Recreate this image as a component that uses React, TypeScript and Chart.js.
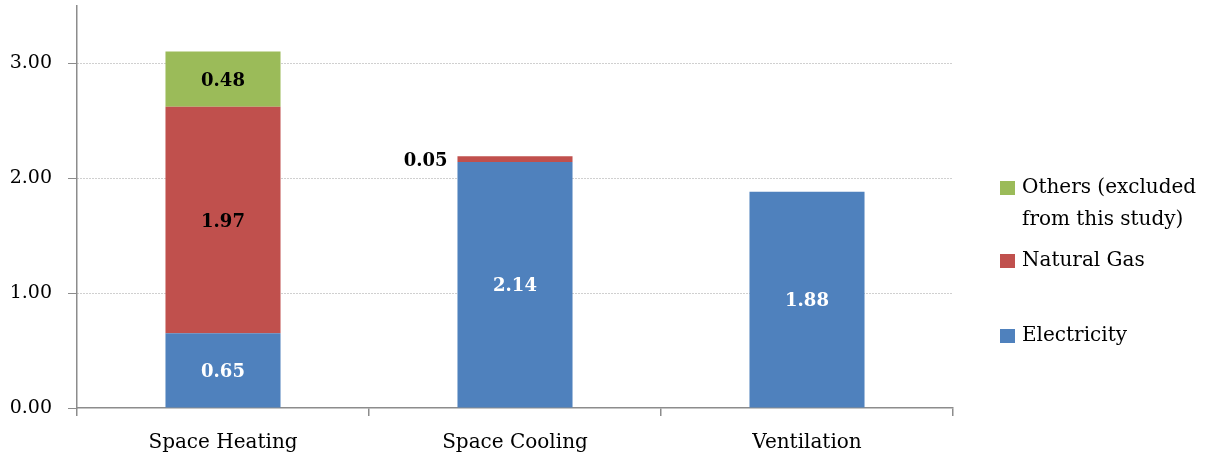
import React, { useEffect, useRef } from "react";
import { Chart, registerables } from "chart.js";

Chart.register(...registerables);

const categories = ["Space Heating", "Space Cooling", "Ventilation"];
const electricity = [0.65, 2.14, 1.88];
const naturalGas = [1.97, 0.05, null];
const others = [0.48, null, null];
const seriesNames = ["Electricity", "Natural Gas", "Others (excluded from this study)"];
const legendLines = [["Others (excluded", "from this study)"], ["Natural Gas"], ["Electricity"]];

const FONT = "'DejaVu Serif', serif";
const BLUE = "#4F81BD";
const RED = "#C0504D";
const GREEN = "#9BBB59";
const AXIS = "#8c8c8c";

const labelPlugin = {
  id: "valueLabels",
  afterDatasetsDraw(chart: any) {
    const ctx = chart.ctx;
    ctx.save();
    ctx.font = `bold 18px ${FONT}`;
    ctx.textBaseline = "middle";
    chart.data.datasets.forEach((ds: any, di: number) => {
      const meta = chart.getDatasetMeta(di);
      meta.data.forEach((bar: any, i: number) => {
        const v = ds.data[i];
        if (v == null) return;
        const top = Math.min(bar.y, bar.base);
        const h = Math.abs(bar.base - bar.y);
        const text = v.toFixed(2);
        if (h < 20) {
          ctx.fillStyle = "#000";
          ctx.textAlign = "right";
          ctx.fillText(text, bar.x - bar.width / 2 - 10, top + 5);
        } else {
          ctx.fillStyle = ds.labelColor;
          ctx.textAlign = "center";
          ctx.fillText(text, bar.x, top + h / 2 + 2);
        }
      });
    });
    ctx.restore();
  },
};

const legendPlugin = {
  id: "sideLegend",
  afterDraw(chart: any) {
    const ctx = chart.ctx;
    const x0 = chart.chartArea.right + 47;
    const colors = [GREEN, RED, BLUE];
    const ys = [188, 261, 336];
    ctx.save();
    ctx.font = `20px ${FONT}`;
    ctx.textBaseline = "middle";
    ctx.textAlign = "left";
    legendLines.forEach((lines, k) => {
      ctx.fillStyle = colors[k];
      ctx.fillRect(x0, ys[k] - 7, 15, 14);
      ctx.fillStyle = "#000";
      lines.forEach((ln, j) => {
        ctx.fillText(ln, x0 + 22, ys[k] + j * 32);
      });
    });
    ctx.restore();
  },
};

export default function App() {
  const ref = useRef<HTMLCanvasElement>(null);
  useEffect(() => {
    if (!ref.current) return;
    Chart.defaults.font.family = FONT;
    const chart = new Chart(ref.current, {
      type: "bar",
      data: {
        labels: categories,
        datasets: [
          { label: seriesNames[0], data: electricity, backgroundColor: BLUE, labelColor: "#fff" } as any,
          { label: seriesNames[1], data: naturalGas, backgroundColor: RED, labelColor: "#000" } as any,
          { label: seriesNames[2], data: others, backgroundColor: GREEN, labelColor: "#000" } as any,
        ],
      },
      options: {
        responsive: false,
        animation: false,
        layout: { padding: { left: 0, top: 5.5, right: 252, bottom: 0 } },
        datasets: { bar: { categoryPercentage: 1, barPercentage: 0.394 } },
        plugins: { legend: { display: false }, tooltip: { enabled: false } },
        scales: {
          x: {
            stacked: true,
            afterFit: (s: any) => { s.height = 50; s.paddingLeft = 0; s.paddingRight = 0; },
            grid: { display: true, drawOnChartArea: false, offset: true, tickLength: 8, color: AXIS, lineWidth: 1.5 },
            border: { color: AXIS, width: 1.5 },
            ticks: { color: "#000", font: { size: 20 }, padding: 15 },
          },
          y: {
            stacked: true,
            min: 0,
            max: 3.5,
            afterFit: (s: any) => { s.width = 77; s.paddingTop = 0; s.paddingBottom = 0; },
            afterBuildTicks: (s: any) => { s.ticks = s.ticks.filter((t: any) => t.value <= 3); },
            grid: {
              color: (c: any) => (c.tick && c.tick.value === 0 ? "rgba(0,0,0,0)" : "#a0a0a0"),
              tickColor: AXIS,
              tickLength: 9,
              tickBorderDash: [],
              lineWidth: 1,
            },
            border: { color: AXIS, width: 1.5, dash: [1, 2] },
            ticks: { stepSize: 1, color: "#000", font: { size: 19 }, padding: 16, callback: (v: any) => Number(v).toFixed(2) },
          },
        },
      },
      plugins: [labelPlugin, legendPlugin],
    } as any);
    return () => chart.destroy();
  }, []);
  return (
    <div style={{ position: "absolute", left: 0, top: 0, width: 1205, height: 458, background: "#fff" }}>
      <canvas ref={ref} width={1205} height={458} style={{ display: "block" }} />
    </div>
  );
}
